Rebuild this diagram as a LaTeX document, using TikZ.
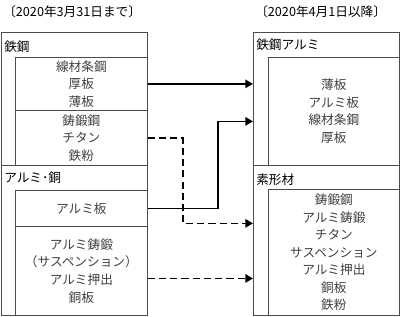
\documentclass[tikz,border=0pt]{standalone}
\usepackage{fontspec}
\newfontfamily\jp{Noto Sans CJK JP}
\usetikzlibrary{arrows.meta, positioning}

\begin{document}
\begin{tikzpicture}[x=0.025cm, y=-0.025cm, every node/.style={font=\jp\fontsize{9}{12.5}\selectfont}]
\tikzset{outer/.style={draw=black!70, line width=0.5pt, anchor=north west, inner sep=0, minimum width=3.65cm},
  inner/.style={draw=black!70, line width=0.5pt, anchor=north west, inner sep=0, align=center, text=black!75},
  hdr/.style={anchor=west, inner sep=0},
  link/.style={line width=1.1pt, -{Triangle[length=5.5pt, width=6pt]}},
  linkd/.style={link, dash pattern=on 5pt off 3pt}}
\useasboundingbox (0,0) rectangle (400,316);
% --- titles ---
\node[hdr] (old) at (3,12) {〔2020年3月31日まで〕};
\node[hdr] (new) at (255,12) {〔2020年4月1日以降〕};
% --- before: left column ---
\node[outer, minimum height=3.325cm] (tekko) at (1,32) {};
\node[outer, minimum height=3.75cm] (alcu) at (1,165) {};
\node[hdr] (tekkoh) at (4,47) {鉄鋼};
\node[hdr] (alcuh) at (4,178) {アルミ･銅};
\node[inner, minimum width=3.3cm, minimum height=1.325cm] (s1) at (15,57) {線材条鋼\\厚板\\薄板};
\node[inner, minimum width=3.3cm, minimum height=1.375cm] (s2) at (15,110) {鋳鍛鋼\\チタン\\鉄粉};
\node[inner, minimum width=3.3cm, minimum height=0.9cm] (a1) at (15,190) {アルミ板};
\node[inner, minimum width=3.3cm, minimum height=2.225cm] (a2) at (15,226) {アルミ鋳鍛\\（サスペンション）\\アルミ押出\\銅板};
% --- after: right column ---
\node[outer, minimum height=3.325cm] (r1) at (253,32) {};
\node[outer, minimum height=3.75cm] (r2) at (253,165) {};
\node[hdr] (r1h) at (256,45) {鉄鋼アルミ};
\node[hdr] (r2h) at (256,180) {素形材};
\node[inner, minimum width=3.275cm, minimum height=2.7cm] (r1i) at (268,57) {薄板\\アルミ板\\線材条鋼\\厚板};
\node[inner, minimum width=3.275cm, minimum height=3.15cm] (r2i) at (268,189) {鋳鍛鋼\\アルミ鋳鍛\\チタン\\サスペンション\\アルミ押出\\銅板\\鉄粉};
% --- links ---
\draw[link] (s1.east) -- (s1.east -| r1.west);
\draw[link] (a1.east) -- ++(70,0) |- ([yshift=-0.5625cm]r1.west);
\draw[linkd] (s2.east) -- ++(35,0) |- ([yshift=0.425cm]r2.west);
\draw[linkd] ([yshift=-0.19cm]a2.east) -- ([yshift=-0.19cm]a2.east -| r2.west);
\end{tikzpicture}
\end{document}
